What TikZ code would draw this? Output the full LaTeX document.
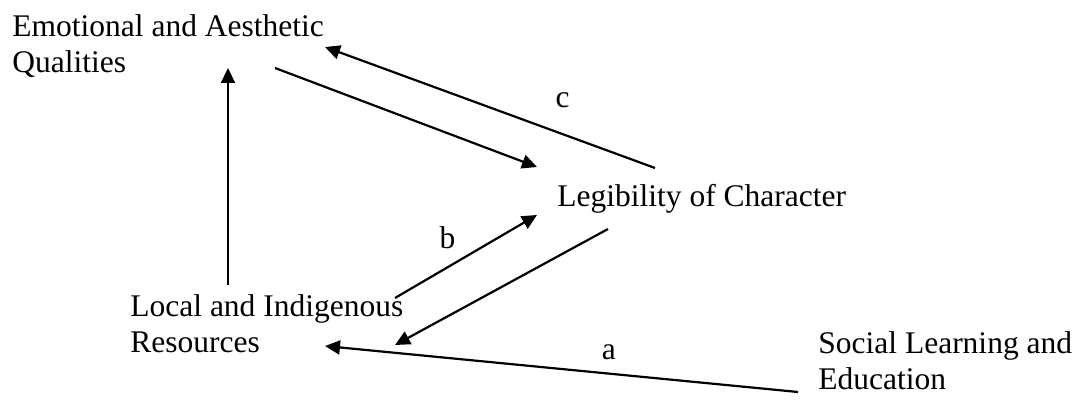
\documentclass[tikz,border=0pt]{standalone}
\usepackage{fontspec}
\setmainfont{Liberation Serif}
\usetikzlibrary{arrows.meta,calc}

\begin{document}
\begin{tikzpicture}[x=0.5pt, y=-0.5pt,
    concept/.style={inner sep=0pt, anchor=base west, align=left,
                    font=\fontsize{15.75}{18}\selectfont},
    letter/.style={inner sep=0pt, font=\fontsize{15.75}{18}\selectfont},
    arrow/.style={-{Triangle[length=7.5pt, width=7pt]}, line width=1.1pt}
  ]
  \useasboundingbox (0,0) rectangle (1085,400);

  \node[concept] (emotion) at (12,73) {Emotional and Aesthetic\\Qualities};
  \node[concept] (legibility) at (557,207) {Legibility of Character};
  \node[concept] (local) at (130,352) {Local and Indigenous\\Resources};
  \node[concept] (social) at (818,389) {Social Learning and\\Education};

  % links between the concepts
  \draw[arrow] ($(local.base west)+(98,-67)$) -- ($(emotion.base west)+(216,-5)$);
  \draw[arrow] ($(emotion.base west)+(263,-5)$) -- ($(legibility.base west)+(-20,-40)$);
  \draw[arrow] ($(legibility.base west)+(98,-39)$) -- ($(emotion.base west)+(313,-26)$)
    node[letter, pos=0.28, shift={(0,-34)}] (c) {c};
  \draw[arrow] ($(local.base west)+(265,-54)$) -- ($(legibility.base west)+(-20,8)$)
    node[letter, pos=0.37, shift={(0,-30)}] (b) {b};
  \draw[arrow] ($(legibility.base west)+(51,22)$) -- ($(local.base west)+(265,-7)$);
  \draw[arrow] ($(social.base west)+(-20,3)$) -- ($(local.base west)+(195,-6)$)
    node[letter, pos=0.40, shift={(0,-21)}] (a) {a};
\end{tikzpicture}
\end{document}
